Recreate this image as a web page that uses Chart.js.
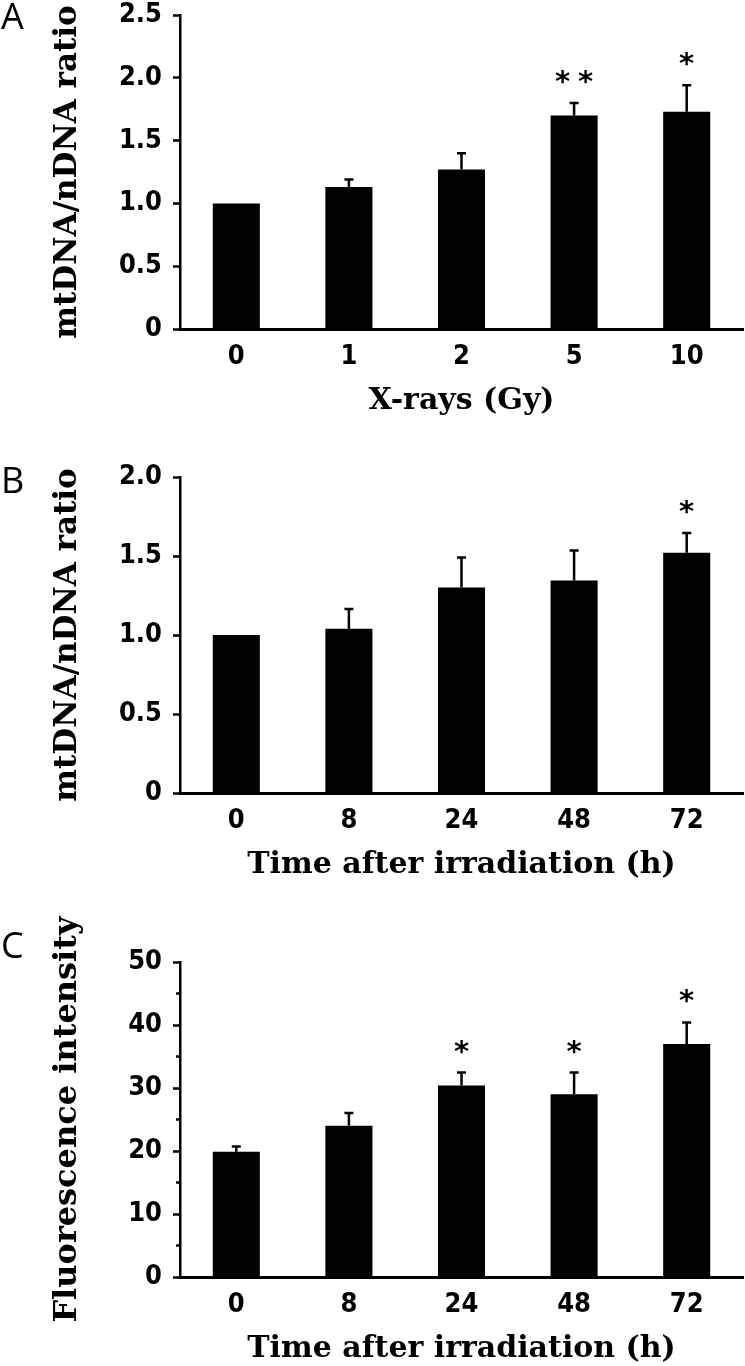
<!DOCTYPE html>
<html>
<head>
<meta charset="utf-8">
<title>mtDNA / nDNA ratio and fluorescence after X-rays</title>
<script src="https://cdn.jsdelivr.net/npm/chart.js@4.4.1/dist/chart.umd.min.js"></script>
<style>
  html, body { margin: 0; padding: 0; background: #fff; }
  #page { position: relative; width: 745px; height: 1366px; }
  .panel { position: absolute; left: 0; width: 745px; }
</style>
</head>
<body>
<div id="page">
  <div class="panel" style="top:0;height:430px"><canvas id="chartA"></canvas></div>
  <div class="panel" style="top:440px;height:446px"><canvas id="chartB"></canvas></div>
  <div class="panel" style="top:880px;height:486px"><canvas id="chartC"></canvas></div>
</div>
<script>
// panel A: dose response
const doseLabels = ['0', '1', '2', '5', '10'];
const doseRatio = [1.0, 1.13, 1.27, 1.70, 1.73];
const doseRatioErr = [0, 0.06, 0.13, 0.10, 0.21];
const doseStars = ['', '', '', '**', '*'];

// panel B: time course of the ratio
const timeLabels = ['0', '8', '24', '48', '72'];
const timeRatio = [1.0, 1.04, 1.30, 1.345, 1.52];
const timeRatioErr = [0, 0.125, 0.19, 0.19, 0.125];
const timeRatioStars = ['', '', '', '', '*'];

// panel C: fluorescence
const fluorIntensity = [19.9, 24.0, 30.4, 29.0, 37.0];
const fluorErr = [0.8, 2.05, 2.05, 3.45, 3.4];
const fluorStars = ['', '', '*', '*', '*'];

const TICK_FONT = { family: "'DejaVu Sans Condensed', 'Liberation Sans Narrow', sans-serif", size: 27, weight: 'bold' };
const serifFont = (size) => ({ family: "'DejaVu Serif', 'Liberation Serif', serif", size, weight: 'bold', lineHeight: 1 });

// error bars (upper half only), asterisks, minor ticks and the panel letter
const extrasPlugin = {
  id: 'extras',
  afterDatasetsDraw(chart, args, opts) {
    const { ctx } = chart;
    const yScale = chart.scales.y;
    const ds = chart.data.datasets[0];
    const meta = chart.getDatasetMeta(0);
    ctx.save();
    ctx.strokeStyle = '#000';
    ctx.fillStyle = '#000';
    ctx.lineWidth = 2.5;

    meta.data.forEach((bar, i) => {
      const err = ds.errors[i];
      const top = yScale.getPixelForValue(ds.data[i] + err);
      if (err > 0) {
        ctx.beginPath();
        ctx.moveTo(bar.x, bar.y);
        ctx.lineTo(bar.x, top);
        ctx.moveTo(bar.x - 4.5, top);
        ctx.lineTo(bar.x + 4.5, top);
        ctx.stroke();
      }
      const stars = ds.stars[i];
      if (stars) {
        ctx.font = "bold 29px 'DejaVu Sans', sans-serif";
        ctx.textAlign = 'center';
        ctx.textBaseline = 'alphabetic';
        const m = ctx.measureText('*');
        const cy = top - 26;
        const base = cy + (m.actualBoundingBoxAscent - m.actualBoundingBoxDescent) / 2;
        for (let k = 0; k < stars.length; k++) {
          ctx.fillText('*', bar.x + (k - (stars.length - 1) / 2) * 23, base);
        }
      }
    });

    if (opts.minorStep) {
      const axisX = chart.chartArea.left;
      for (let v = opts.minorStep; v < yScale.max; v += opts.minorStep * 2) {
        const py = yScale.getPixelForValue(v);
        ctx.beginPath();
        ctx.moveTo(axisX - 4, py);
        ctx.lineTo(axisX, py);
        ctx.stroke();
      }
    }

    ctx.font = "36px 'Open Sans', 'Liberation Sans', sans-serif";
    ctx.textAlign = 'left';
    ctx.textBaseline = 'middle';
    ctx.fillText(opts.letter, 1, opts.letterY);
    ctx.restore();
  }
};

const crearPanel = (id, cfg) => {
  const ctx = document.getElementById(id);
  return new Chart(ctx, {
    type: 'bar',
    data: {
      labels: cfg.labels,
      datasets: [{
        data: cfg.values,
        errors: cfg.errors,
        stars: cfg.stars,
        backgroundColor: '#000',
        borderWidth: 0,
        categoryPercentage: 0.418,
        barPercentage: 1
      }]
    },
    options: {
      responsive: true,
      maintainAspectRatio: false,
      animation: false,
      layout: { padding: { top: cfg.top, right: 2, left: 0, bottom: 0 } },
      plugins: {
        legend: { display: false },
        tooltip: { enabled: false },
        extras: { letter: cfg.letter, letterY: cfg.letterY, minorStep: cfg.minorStep }
      },
      scales: {
        x: {
          afterFit: (s) => { s.height = cfg.xHeight; },
          grid: { display: true, drawOnChartArea: false, drawTicks: false },
          border: { display: true, color: '#000', width: 3 },
          ticks: { color: '#000', font: TICK_FONT, padding: 12 },
          title: {
            display: true,
            text: cfg.xTitle,
            color: '#000',
            font: serifFont(30),
            padding: { top: 0, bottom: cfg.xTitlePad }
          }
        },
        y: {
          min: 0,
          max: cfg.yMax,
          afterFit: (s) => {
            s.width = 180;
            s.paddingTop = 0;
            s.paddingBottom = 0;
          },
          grid: { drawOnChartArea: false, drawTicks: true, tickLength: 7, tickWidth: 2.5, tickColor: '#000' },
          border: { display: true, color: '#000', width: 2.5 },
          ticks: {
            stepSize: cfg.yStep,
            color: '#000',
            font: TICK_FONT,
            padding: 11,
            callback: cfg.yFormat
          },
          title: {
            display: true,
            text: cfg.yTitle,
            color: '#000',
            font: serifFont(cfg.yTitleSize),
            padding: { top: 68 - cfg.yTitleSize / 2, bottom: 0 }
          }
        }
      }
    },
    plugins: [extrasPlugin]
  });
};

const ratioFormat = (v) => (v === 0 ? '0' : v.toFixed(1));

crearPanel('chartA', {
  labels: doseLabels, values: doseRatio, errors: doseRatioErr, stars: doseStars,
  yMax: 2.5, yStep: 0.5, yFormat: ratioFormat,
  xTitle: 'X-rays (Gy)', yTitle: 'mtDNA/nDNA ratio', yTitleSize: 31,
  top: 15, xHeight: 101, xTitlePad: 14, letter: 'A', letterY: 19
});

crearPanel('chartB', {
  labels: timeLabels, values: timeRatio, errors: timeRatioErr, stars: timeRatioStars,
  yMax: 2.0, yStep: 0.5, yFormat: ratioFormat,
  xTitle: 'Time after irradiation (h)', yTitle: 'mtDNA/nDNA ratio', yTitleSize: 31,
  top: 37, xHeight: 93, xTitlePad: 6, letter: 'B', letterY: 43
});

crearPanel('chartC', {
  labels: timeLabels, values: fluorIntensity, errors: fluorErr, stars: fluorStars,
  yMax: 50, yStep: 10, yFormat: (v) => v,
  xTitle: 'Time after irradiation (h)', yTitle: 'Fluorescence intensity', yTitleSize: 32,
  top: 82, xHeight: 89, xTitlePad: 2, letter: 'C', letterY: 68, minorStep: 5
});
</script>
</body>
</html>
